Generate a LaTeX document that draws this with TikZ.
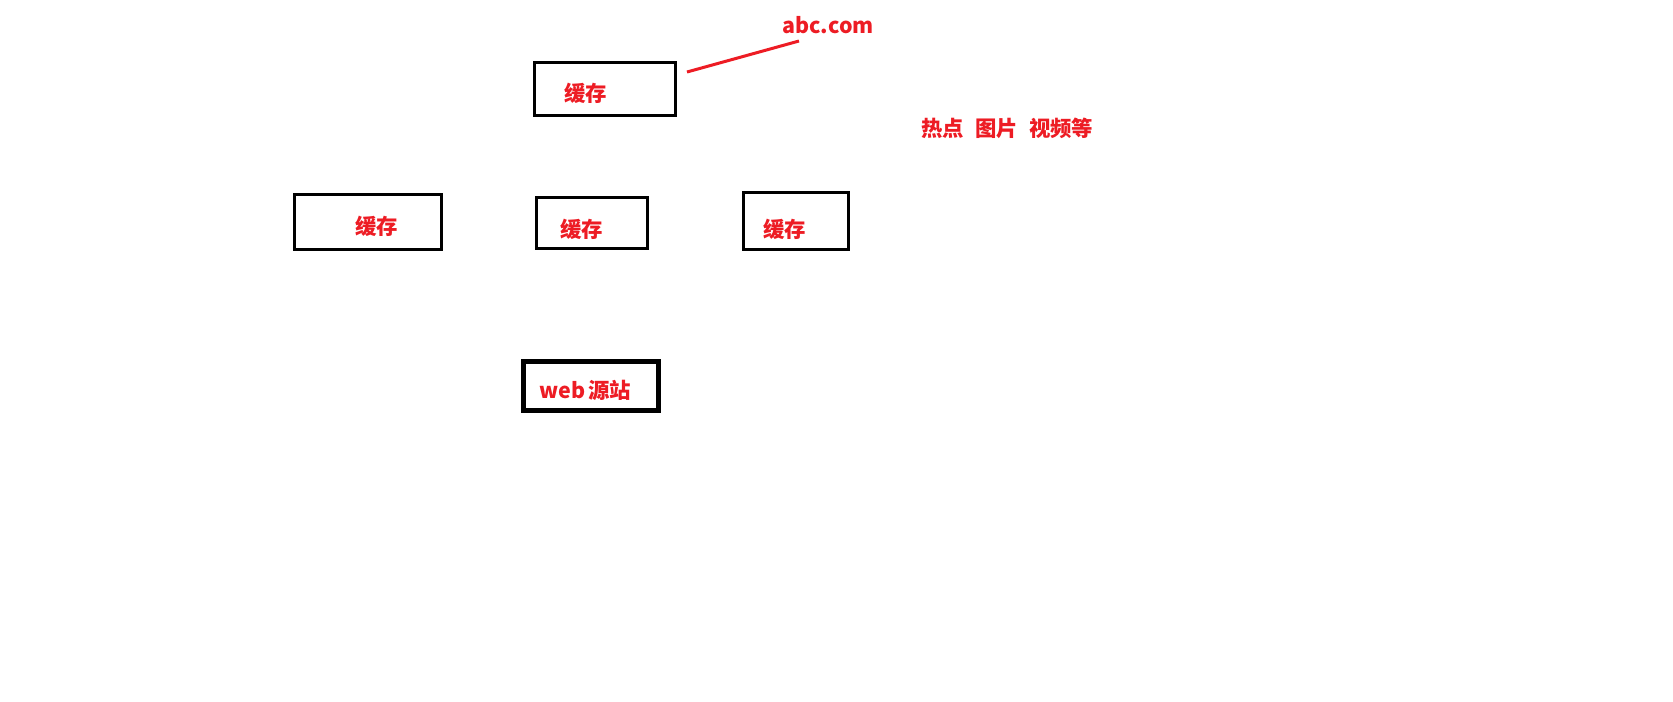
\documentclass[tikz,border=0pt]{standalone}
\usepackage{fontspec}
\setmainfont{Noto Sans CJK SC}
\usepackage{tikz}
\definecolor{paintred}{RGB}{237,28,36}

\begin{document}
\begin{tikzpicture}[x=0.5pt,y=-0.5pt,
  cachebox/.style={draw=black,line width=1.5pt,inner sep=0pt},
  srcbox/.style={draw=black,line width=2.4pt,inner sep=0pt},
  lbl/.style={text=paintred,font=\bfseries\fontsize{10.7pt}{13pt}\selectfont,inner sep=0pt,anchor=base west}]
\useasboundingbox (0,0) rectangle (1673,701);
% cache boxes
\node[cachebox,minimum width=70.5pt,minimum height=26.5pt] (top) at (605,89) {};
\node[cachebox,minimum width=73.5pt,minimum height=27.5pt] (left) at (368,222) {};
\node[cachebox,minimum width=55.5pt,minimum height=25.5pt] (mid) at (592,223) {};
\node[cachebox,minimum width=52.5pt,minimum height=28.5pt] (right) at (796,221) {};
\node[srcbox,minimum width=67.5pt,minimum height=24.5pt] (src) at (591,386) {};
% labels
\node[lbl] (topt) at (564,101.5) {缓存};
\node[lbl] (leftt) at (355,234.5) {缓存};
\node[lbl] (midt) at (560,237.5) {缓存};
\node[lbl] (rightt) at (763,237.5) {缓存};
\node[lbl] (srct) at (539,398) {web\hspace{1.5pt}源站};
\node[lbl] (dom) at (782,34) {abc.com};
\node[lbl] (hot) at (921,136.5) {热点\hspace{5.5pt}图片\hspace{5.5pt}视频等};
% pointer
\coordinate (p1) at (687,72);
\coordinate (p2) at (799,41);
\draw[paintred,line width=1.5pt] (p1)--(p2);
\end{tikzpicture}
\end{document}
